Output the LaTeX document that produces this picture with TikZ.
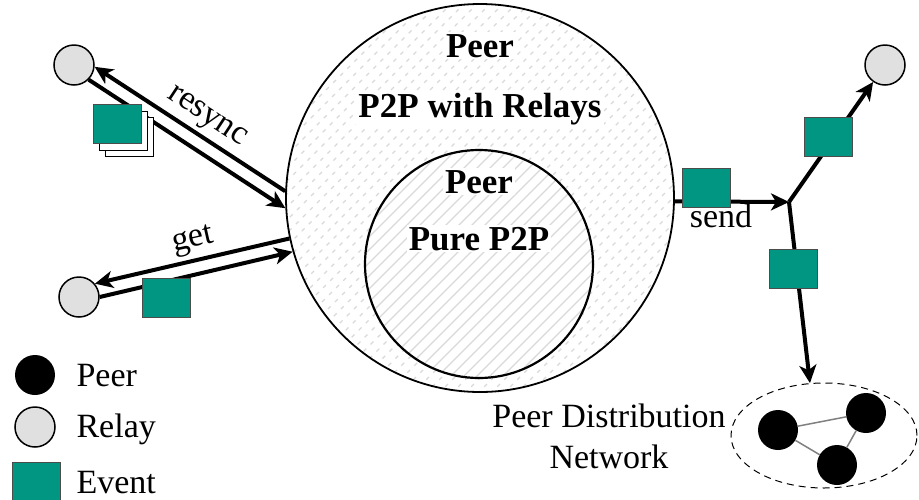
\documentclass[tikz,border=0pt]{standalone}
\usepackage{fontspec}
\setmainfont{Liberation Serif}
\usetikzlibrary{arrows.meta,shapes.geometric}
\definecolor{eventteal}{RGB}{0,150,130}
\definecolor{relaygrey}{RGB}{224,224,224}
\begin{document}
\begin{tikzpicture}[x=1pt,y=-1pt,
  font=\fontsize{34}{40}\selectfont,
  relay/.style={circle,draw,fill=relaygrey,line width=1.5pt,minimum size=40pt,inner sep=0pt},
  peer/.style={circle,fill=black,minimum size=40pt,inner sep=0pt},
  event/.style={rectangle,draw=black!70,fill=eventteal,line width=1pt,minimum width=48pt,minimum height=39pt,inner sep=0pt},
  evcopy/.style={event,fill=white,draw=black},
  flow/.style={line width=4pt,-{Stealth[length=18pt,width=17pt,inset=5pt]}},
  title/.style={font=\fontsize{35}{40}\selectfont\bfseries,fill=white,inner sep=2pt,anchor=base},
  hatch/.style={gray!30,line width=1.1pt},
]
\useasboundingbox (0,0) rectangle (919,499);

% hatched background of the relay-based peer
\begin{scope}
  \clip (480,198) circle (194);
  \foreach \c in {390,403,...,970}
    \draw[hatch,dash pattern=on 4pt off 6pt] (\c-500,500) -- (\c,0);
\end{scope}
% hatched background of the pure P2P peer
\begin{scope}
  \fill[white] (479,264) circle (114);
  \clip (479,264) circle (114);
  \foreach \c in {580,593,...,1000}
    \draw[hatch] (\c-500,500) -- (\c,0);
\end{scope}

\node[circle,draw,line width=1.8pt,minimum size=388pt,inner sep=0pt] (outer) at (480,198) {};
\node[circle,draw,line width=2.2pt,minimum size=228pt,inner sep=0pt] (inner) at (479,264) {};

\node[title] (outerpeer) at (480,57) {Peer};
\node[title] (outerkind) at (480,117) {P2P with Relays};
\node[title] (innerpeer) at (479,193) {Peer};
\node[title] (innerkind) at (479,250) {Pure P2P};

% relays
\node[relay] (relayA) at (74,65) {};
\node[relay] (relayB) at (79,297) {};
\node[relay] (relayC) at (885,65) {};

% resync
\draw[flow] (outer.178.5) -- (relayA.-5);
\draw[flow] (relayA.-45) -- (outer.183.5);
\node[rotate=-33.5] (resynclabel) at (206,118) {resync};
\node[evcopy] (evResyncC) at (129,137) {};
\node[evcopy] (evResyncB) at (123.5,131) {};
\node[event] (evResync) at (117.5,123.5) {};

% get
\draw[flow] (outer.192.5) -- (relayB.40);
\draw[flow] (relayB.east) -- (outer.196);
\node[rotate=12.5] (getlabel) at (193,241) {get};
\node[event] (evGet) at (166,297.5) {};

% peer distribution network
\node[ellipse,draw,line width=1pt,dash pattern=on 7pt off 5pt,minimum width=186pt,minimum height=105pt,inner sep=0pt] (pdn) at (824,435.5) {};
\node[peer] (p1) at (778,430) {};
\node[peer] (p2) at (866,413) {};
\node[peer] (p3) at (837,465) {};
\draw[gray,line width=1.5pt] (p1) -- (p2);
\draw[gray,line width=1.5pt] (p2) -- (p3);
\draw[gray,line width=1.5pt] (p3) -- (p1);
\node[align=center,font=\fontsize{34}{41}\selectfont] (pdnlabel) at (609,436) {Peer Distribution\\Network};

% send
\coordinate (junction) at (789,202);
\draw[flow] (outer.-1) -- (junction);
\draw[flow] (junction) -- (relayC);
\draw[flow] (junction) -- (pdn.105);
\node[anchor=base] (sendlabel) at (721,227) {send};
\node[event] (evSend) at (706.5,188) {};
\node[event] (evUp) at (828,137) {};
\node[event] (evDown) at (793.5,268.5) {};

% legend
\node[peer] (legPeer) at (35,375) {};
\node[relay] (legRelay) at (35,427) {};
\node[event] (legEvent) at (36,481.5) {};
\node[anchor=base west] (legPeerText) at (73,386) {Peer};
\node[anchor=base west] (legRelayText) at (73,437) {Relay};
\node[anchor=base west] (legEventText) at (73,493) {Event};
\end{tikzpicture}
\end{document}
